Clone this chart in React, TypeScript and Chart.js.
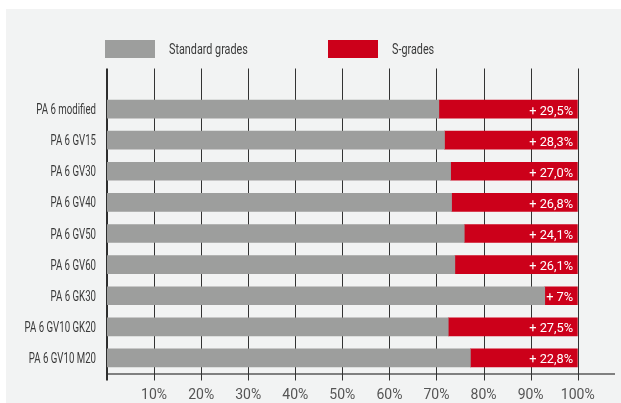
import { useEffect, useRef } from 'react';
import { Chart, registerables } from 'chart.js';

Chart.register(...registerables);

// Materials compared
const categories = [
  'PA 6 modified',
  'PA 6 GV15',
  'PA 6 GV30',
  'PA 6 GV40',
  'PA 6 GV50',
  'PA 6 GV60',
  'PA 6 GK30',
  'PA 6 GV10 GK20',
  'PA 6 GV10 M20',
];

// Share of the standard grade (%)
const standardGrades = [70.5, 71.7, 73.0, 73.2, 75.9, 73.9, 93.0, 72.5, 77.2];

// Gain of the S-grade (%), shown as "+ x%" labels
const sGrades = [29.5, 28.3, 27.0, 26.8, 24.1, 26.1, 7, 27.5, 22.8];
const sGradeDecimals = [1, 1, 1, 1, 1, 1, 0, 1, 1];

const seriesNames = ['Standard grades', 'S-grades'];
const xTickValues = [10, 20, 30, 40, 50, 60, 70, 80, 90, 100];

const GREY = '#9d9e9d';
const RED = '#cc001a';
const PANEL = '#f2f3f3';
const TEXT = '#3a3a3a';
const FONT = "Roboto, 'DejaVu Sans', sans-serif";

const formatGain = (v: number, d: number) => `+ ${v.toFixed(d).replace('.', ',')}%`;

// Draws text squeezed horizontally to get a condensed face
function condensedText(ctx: CanvasRenderingContext2D, text: string, x: number, y: number, squeeze: number, align: CanvasTextAlign) {
  ctx.save();
  ctx.translate(x, y);
  ctx.scale(squeeze, 1);
  ctx.textAlign = align;
  ctx.fillText(text, 0, 0);
  ctx.restore();
}

// Vertical grid lines that run above the bars and slightly below the axis
const gridPlugin = {
  id: 'extendedGrid',
  beforeDatasetsDraw(chart: any) {
    const { ctx, chartArea, scales } = chart;
    const x = scales.x;
    const top = chartArea.top - 25;
    const bottom = chartArea.bottom + 7;
    ctx.save();
    // horizontal axis line
    ctx.strokeStyle = '#5a5a5a';
    ctx.lineWidth = 1.5;
    ctx.beginPath();
    ctx.moveTo(chartArea.left, chartArea.bottom + 0.5);
    ctx.lineTo(chart.width - 6, chartArea.bottom + 0.5);
    ctx.stroke();
    // value grid lines
    ctx.strokeStyle = '#333333';
    ctx.lineWidth = 1;
    xTickValues.forEach((v) => {
      const px = Math.round(x.getPixelForValue(v)) + 0.5;
      ctx.beginPath();
      ctx.moveTo(px, top);
      ctx.lineTo(px, bottom);
      ctx.stroke();
    });
    // zero line
    ctx.lineWidth = 2;
    ctx.strokeStyle = '#2e2e2e';
    const x0 = Math.round(x.getPixelForValue(0));
    ctx.beginPath();
    ctx.moveTo(x0, top);
    ctx.lineTo(x0, bottom);
    ctx.stroke();
    ctx.restore();
  },
};

// Category names in a condensed face, right-aligned before the zero line
const categoryLabelPlugin = {
  id: 'categoryLabels',
  afterDraw(chart: any) {
    const { ctx, scales, chartArea } = chart;
    const y = scales.y;
    ctx.save();
    ctx.font = `14px ${FONT}`;
    ctx.fillStyle = TEXT;
    ctx.textBaseline = 'alphabetic';
    (chart.data.labels as string[]).forEach((label, i) => {
      condensedText(ctx, label, chartArea.left - 11, y.getPixelForTick(i) + 5, 0.69, 'right');
    });
    ctx.restore();
  },
};

// "+ x%" labels inside the right end of the red bars
const gainLabelPlugin = {
  id: 'gainLabels',
  afterDatasetsDraw(chart: any) {
    const { ctx } = chart;
    const meta = chart.getDatasetMeta(1);
    ctx.save();
    ctx.font = `13.5px ${FONT}`;
    ctx.fillStyle = '#ffffff';
    ctx.textBaseline = 'alphabetic';
    meta.data.forEach((bar: any, i: number) => {
      condensedText(ctx, formatGain(sGrades[i], sGradeDecimals[i]), bar.x - 4.5, bar.y + 5.5, 0.95, 'right');
    });
    ctx.restore();
  },
};

// Legend row above the grid
const legendPlugin = {
  id: 'topLegend',
  afterDraw(chart: any) {
    const { ctx } = chart;
    const items = [
      { box: 99, text: 163, color: GREY, label: seriesNames[0] },
      { box: 322, text: 386, color: RED, label: seriesNames[1] },
    ];
    ctx.save();
    ctx.font = `15px ${FONT}`;
    ctx.textBaseline = 'alphabetic';
    items.forEach((it) => {
      ctx.fillStyle = it.color;
      ctx.fillRect(it.box, 31, 50, 18);
      ctx.fillStyle = TEXT;
      condensedText(ctx, it.label, it.text, 44.5, 0.72, 'left');
    });
    ctx.restore();
  },
};

export default function App() {
  const canvasRef = useRef<HTMLCanvasElement | null>(null);

  useEffect(() => {
    if (!canvasRef.current) return;
    const chart = new Chart(canvasRef.current, {
      type: 'bar',
      data: {
        labels: categories,
        datasets: [
          {
            label: seriesNames[0],
            data: standardGrades,
            backgroundColor: GREY,
            borderWidth: 0,
            barThickness: 18,
          },
          {
            label: seriesNames[1],
            data: sGrades,
            backgroundColor: RED,
            borderWidth: 0,
            barThickness: 18,
          },
        ],
      },
      options: {
        indexAxis: 'y',
        animation: false,
        responsive: false,
        maintainAspectRatio: false,
        layout: { padding: { top: 84.5, right: 43.3, bottom: 0, left: 0 } },
        plugins: {
          legend: { display: false },
          tooltip: { enabled: false },
        },
        scales: {
          x: {
            stacked: true,
            min: 0,
            max: 100,
            grid: { display: false, drawTicks: false },
            border: { display: false },
            ticks: {
              stepSize: 10,
              padding: 14,
              color: '#555555',
              font: { family: FONT, size: 14 },
              callback: (v: any) => (v === 0 ? '' : `${v}%`),
            },
            afterFit: (scale: any) => {
              scale.height = 29.5;
            },
          },
          y: {
            stacked: true,
            grid: { display: false, drawTicks: false },
            border: { display: false },
            ticks: { display: false },
            afterFit: (scale: any) => {
              scale.width = 101;
            },
          },
        },
      },
      plugins: [gridPlugin, gainLabelPlugin, categoryLabelPlugin, legendPlugin],
    });
    return () => chart.destroy();
  }, []);

  return (
    <div style={{ position: 'fixed', left: 0, top: 0, width: 621, height: 403, background: '#ffffff' }}>
      <div style={{ position: 'absolute', left: 6, top: 9, width: 615, height: 394, background: PANEL }}>
        <canvas ref={canvasRef} width={615} height={394} style={{ display: 'block' }} />
      </div>
    </div>
  );
}
